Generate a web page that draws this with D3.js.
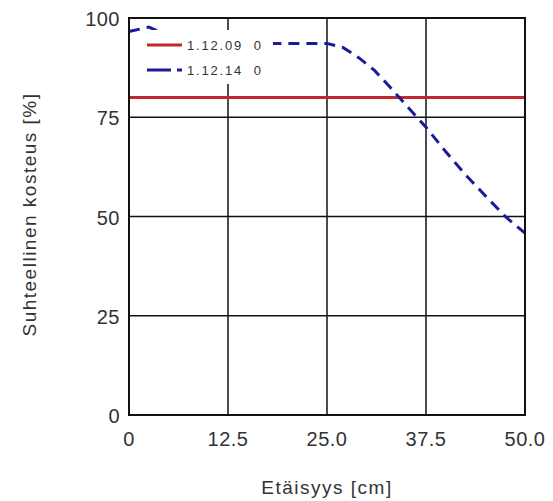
<!DOCTYPE html>
<html>
<head>
<meta charset="utf-8">
<script src="https://cdn.jsdelivr.net/npm/d3@7"></script>
<style>
  body { margin: 0; background: #fff; }
  text { font-family: "Liberation Sans", Arial, sans-serif; fill: #333; }
</style>
</head>
<body>
<div id="chart"></div>
<script>
// data
var xTicks = [0, 12.5, 25.0, 37.5, 50.0];
var yTicks = [0, 25, 50, 75, 100];
var seriesNames = ["1.12.09  0", "1.12.14  0"];
var redX = [0, 50];
var redY = [80, 80];
var blueX = [0, 2.5, 5, 10, 17.5, 25, 27, 29, 31, 33, 35, 37.5, 40, 42.5, 45, 47.5, 50];
var blueY = [96.6, 97.7, 95.5, 94.5, 93.6, 93.6, 92.6, 90, 86.8, 82.5, 78, 72.5, 66.3, 60.5, 55.2, 50, 45.8];

var margin = {top: 18, right: 28, bottom: 86, left: 129},
    width = 553 - margin.left - margin.right,
    height = 501 - margin.top - margin.bottom;

var svg = d3.select("#chart")
  .append("svg")
    .attr("width", 553)
    .attr("height", 501)
  .append("g")
    .attr("transform", "translate(" + margin.left + "," + margin.top + ")");

var x = d3.scaleLinear().domain([0, 50]).range([0, width]);
var y = d3.scaleLinear().domain([0, 100]).range([height, 0]);

// grid
svg.append("g").selectAll("line")
  .data(xTicks)
  .enter().append("line")
    .attr("x1", function(d) { return x(d); })
    .attr("x2", function(d) { return x(d); })
    .attr("y1", 0).attr("y2", height)
    .style("stroke", "#111").style("stroke-width", 1.5);
svg.append("g").selectAll("line")
  .data(yTicks)
  .enter().append("line")
    .attr("y1", function(d) { return y(d); })
    .attr("y2", function(d) { return y(d); })
    .attr("x1", 0).attr("x2", width)
    .style("stroke", "#111").style("stroke-width", 1.5);

// tick labels
svg.append("g").selectAll("text")
  .data(xTicks)
  .enter().append("text")
    .attr("x", function(d) { return x(d); })
    .attr("y", height + 31)
    .attr("text-anchor", "middle")
    .style("font-size", "20px")
    .style("letter-spacing", "0.5px")
    .text(function(d) { return d === 0 ? "0" : d.toFixed(1); });
svg.append("g").selectAll("text")
  .data(yTicks)
  .enter().append("text")
    .attr("x", -9)
    .attr("y", function(d) { return y(d) + 8; })
    .attr("text-anchor", "end")
    .style("font-size", "20px")
    .style("letter-spacing", "0.5px")
    .text(function(d) { return d; });

// lines
var line = d3.line()
  .x(function(d) { return x(d[0]); })
  .y(function(d) { return y(d[1]); });

svg.append("path")
  .datum(redX.map(function(v, i) { return [v, redY[i]]; }))
  .attr("d", line)
  .style("fill", "none")
  .style("stroke", "#c1272d")
  .style("stroke-width", 3);

svg.append("path")
  .datum(blueX.map(function(v, i) { return [v, blueY[i]]; }))
  .attr("d", line)
  .style("fill", "none")
  .style("stroke", "#1a1a9a")
  .style("stroke-width", 3)
  .style("stroke-dasharray", "11,7");

// legend
var legend = svg.append("g").attr("transform", "translate(11,12)");
legend.append("rect")
  .attr("width", 133).attr("height", 54)
  .style("fill", "#fff");
var colors = ["#c1272d", "#1a1a9a"];
var dashes = ["none", "24,6,5,6"];
seriesNames.forEach(function(name, i) {
  legend.append("line")
    .attr("x1", 7).attr("x2", 42)
    .attr("y1", 15 + i * 25).attr("y2", 15 + i * 25)
    .style("stroke", colors[i])
    .style("stroke-width", 3)
    .style("stroke-dasharray", dashes[i]);
  legend.append("text")
    .attr("x", 47).attr("y", 20 + i * 25)
    .attr("xml:space", "preserve")
    .style("font-size", "13px")
    .style("letter-spacing", "1.8px")
    .text(name);
});

// frame
svg.append("rect")
  .attr("width", width).attr("height", height)
  .style("fill", "none")
  .style("stroke", "#111").style("stroke-width", 2);

// axis titles
svg.append("text")
  .attr("x", width / 2)
  .attr("y", height + 79)
  .attr("text-anchor", "middle")
  .style("font-size", "19px")
  .style("letter-spacing", "1.5px")
  .text("Etäisyys [cm]");

svg.append("text")
  .attr("transform", "rotate(-90)")
  .attr("x", -height / 2 + 2)
  .attr("y", -93)
  .attr("text-anchor", "middle")
  .style("font-size", "19px")
  .style("letter-spacing", "1.5px")
  .text("Suhteellinen kosteus [%]");
</script>
</body>
</html>
